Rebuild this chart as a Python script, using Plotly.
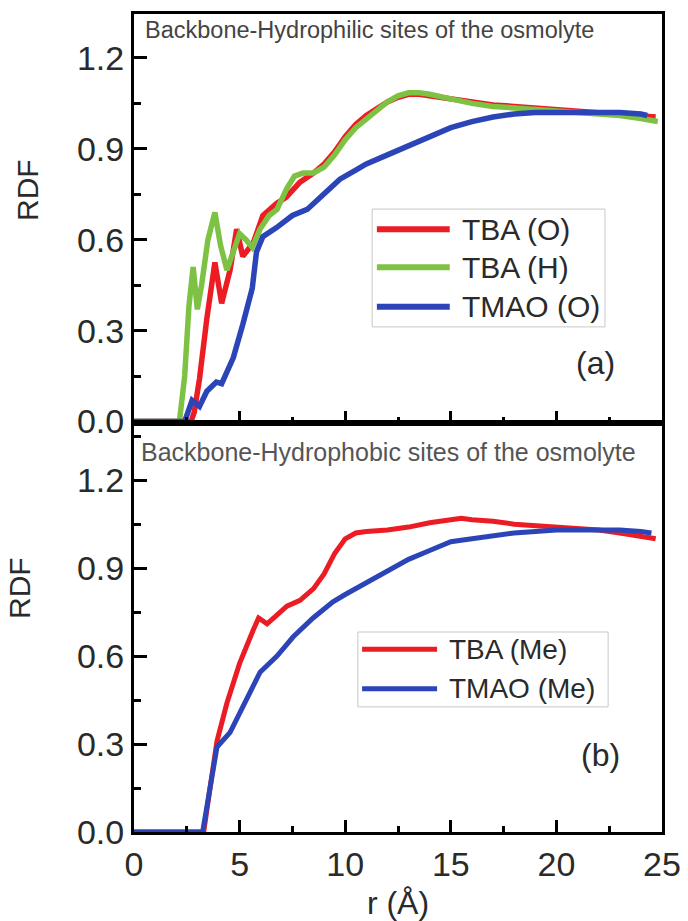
import plotly.graph_objects as go

# ---- panel (a): backbone vs hydrophilic osmolyte sites ----
r_tba_o = [0, 2.7, 2.85, 3.1, 3.45, 3.83, 4.15, 4.55, 4.86, 5.15, 5.65, 6.1, 6.75, 7.2, 7.86,
           8.5, 9.0, 9.5, 10, 10.5, 11, 11.5, 12, 12.5, 13, 13.5, 14, 15, 16, 17, 18, 19, 20,
           21, 22, 23, 24, 24.7]
g_tba_o = [0, 0, 0.03, 0.14, 0.34, 0.525, 0.39, 0.50, 0.635, 0.545, 0.59, 0.68, 0.72, 0.74, 0.79,
           0.82, 0.85, 0.89, 0.94, 0.98, 1.01, 1.035, 1.055, 1.07, 1.08, 1.08, 1.075, 1.065, 1.055,
           1.045, 1.04, 1.035, 1.03, 1.025, 1.02, 1.015, 1.01, 1.005]

r_tba_h = [0, 2.15, 2.4, 2.6, 2.8, 3.0, 3.2, 3.5, 3.83, 4.1, 4.4, 4.7, 5.0, 5.3, 5.6, 5.97, 6.4,
           6.77, 7.24, 7.6, 8.0, 8.5, 9.0, 9.5, 10, 10.5, 11, 11.5, 12, 12.5, 13, 13.5, 14, 15,
           16, 17, 18, 19, 20, 21, 22, 23, 24, 24.8]
g_tba_h = [0, 0, 0.15, 0.38, 0.51, 0.37, 0.45, 0.60, 0.69, 0.58, 0.50, 0.56, 0.62, 0.60, 0.575,
           0.635, 0.68, 0.70, 0.77, 0.81, 0.82, 0.82, 0.84, 0.88, 0.93, 0.97, 1.0, 1.03, 1.055,
           1.075, 1.085, 1.085, 1.08, 1.065, 1.05, 1.04, 1.035, 1.03, 1.025, 1.02, 1.015, 1.01,
           1.0, 0.99]

r_tmao_o = [0, 2.4, 2.75, 3.1, 3.45, 3.9, 4.15, 4.7, 5.15, 5.6, 5.8, 6.1, 6.75, 7.5, 8.2, 8.8,
            9.75, 10.5, 11, 12, 13, 14, 15, 16, 17, 18, 19, 20, 21, 22, 23, 24, 24.3]
g_tmao_o = [0, 0, 0.07, 0.05, 0.10, 0.13, 0.125, 0.21, 0.32, 0.44, 0.56, 0.61, 0.64, 0.68, 0.70,
            0.74, 0.80, 0.83, 0.85, 0.88, 0.91, 0.94, 0.97, 0.99, 1.005, 1.015, 1.02, 1.02, 1.02,
            1.02, 1.02, 1.015, 1.01]

# ---- panel (b): backbone vs hydrophobic osmolyte sites ----
r_tba_me = [0, 3.3, 3.6, 3.93, 4.4, 5.0, 5.65, 5.9, 6.3, 6.77, 7.24, 7.86, 8.5, 9.0, 9.5, 10.0,
            10.5, 11, 12, 13, 14, 15, 15.5, 16, 17, 18, 19, 20, 21, 22, 23, 24, 24.7]
g_tba_me = [0, 0, 0.15, 0.31, 0.44, 0.575, 0.69, 0.73, 0.71, 0.74, 0.77, 0.79, 0.83, 0.88, 0.95,
            1.0, 1.02, 1.025, 1.03, 1.04, 1.055, 1.065, 1.07, 1.065, 1.06, 1.05, 1.045, 1.04,
            1.035, 1.03, 1.02, 1.01, 1.0]

r_tmao_me = [0, 3.25, 3.6, 3.93, 4.55, 5.16, 5.97, 6.77, 7.53, 8.48, 9.42, 10, 11, 12, 13, 14, 15,
             16, 17, 18, 19, 20, 21, 22, 23, 24, 24.5]
g_tmao_me = [0, 0, 0.15, 0.29, 0.34, 0.43, 0.545, 0.60, 0.665, 0.73, 0.785, 0.81, 0.85, 0.89,
             0.93, 0.96, 0.99, 1.0, 1.01, 1.02, 1.025, 1.03, 1.03, 1.03, 1.03, 1.025, 1.02]

names_a = ["TBA (O)", "TBA (H)", "TMAO (O)"]
names_b = ["TBA (Me)", "TMAO (Me)"]
y_ticks = [0.0, 0.3, 0.6, 0.9, 1.2]
x_ticks = [0, 5, 10, 15, 20, 25]

RED, GREEN, BLUE = "#ec1c24", "#7dc243", "#2b44b8"
FONT = "Liberation Sans, Arial, sans-serif"
TXT = "#2a2a2a"

fig = go.Figure()
series_a = [(r_tba_o, g_tba_o, RED), (r_tba_h, g_tba_h, GREEN), (r_tmao_o, g_tmao_o, BLUE)]
series_b = [(r_tba_me, g_tba_me, RED), (r_tmao_me, g_tmao_me, BLUE)]
for (x, y, c), n in zip(series_a, names_a):
    fig.add_trace(go.Scatter(x=x, y=y, mode="lines", name=n, line=dict(color=c, width=5.5),
                             xaxis="x", yaxis="y", showlegend=False))
for (x, y, c), n in zip(series_b, names_b):
    fig.add_trace(go.Scatter(x=x, y=y, mode="lines", name=n, line=dict(color=c, width=5),
                             xaxis="x2", yaxis="y2", showlegend=False))

axis_common = dict(showline=True, linecolor="black", linewidth=3, mirror=True,
                   ticks="inside", tickcolor="black", tickwidth=3, showgrid=False,
                   zeroline=False, automargin=False,
                   tickfont=dict(family=FONT, size=34, color=TXT))
xcommon = dict(axis_common, range=[0, 25], tickvals=x_ticks, ticklen=12,
               minor=dict(dtick=2.5, tick0=0, ticks="inside", ticklen=6, tickwidth=3,
                          tickcolor="black", showgrid=False))
ycommon = dict(axis_common, tickvals=y_ticks, tickformat=".1f", ticklen=13,
               minor=dict(dtick=0.15, tick0=0, ticks="inside", ticklen=7, tickwidth=3,
                          tickcolor="black", showgrid=False))

fig.update_layout(
    width=688, height=921,
    margin=dict(l=134, r=26, t=14, b=89),
    paper_bgcolor="white", plot_bgcolor="white",
    font=dict(family=FONT, color=TXT),
    xaxis=dict(xcommon, anchor="y", showticklabels=False),
    yaxis=dict(ycommon, domain=[0.5, 1.0], range=[-0.005, 1.345], anchor="x"),
    xaxis2=dict(xcommon, anchor="y2", showticklabels=True,
                title=dict(text="r (Å)", font=dict(family=FONT, size=32, color=TXT),
                           standoff=12)),
    yaxis2=dict(ycommon, domain=[0.0, 0.5], range=[0, 1.395], anchor="x2"),
    showlegend=False,
)

annotations = []
shapes = []

# y-axis titles
annotations.append(dict(text="RDF", xref="paper", yref="paper", x=(27 - 134) / 528,
                        y=(832 - 190) / 818, showarrow=False, textangle=-90,
                        font=dict(family=FONT, size=30, color=TXT),
                        xanchor="center", yanchor="middle"))
annotations.append(dict(text="RDF", xref="paper", yref="paper", x=(19 - 134) / 528,
                        y=(832 - 588) / 818, showarrow=False, textangle=-90,
                        font=dict(family=FONT, size=30, color=TXT),
                        xanchor="center", yanchor="middle"))

# panel headings and letters
annotations.append(dict(text="Backbone-Hydrophilic sites of the osmolyte", xref="x domain",
                        yref="y domain", x=0.017, y=0.961, showarrow=False, xanchor="left",
                        yanchor="middle", font=dict(family=FONT, size=23.5, color="#444")))
annotations.append(dict(text="Backbone-Hydrophobic sites of the osmolyte", xref="x2 domain",
                        yref="y2 domain", x=0.009, y=0.929, showarrow=False, xanchor="left",
                        yanchor="middle", font=dict(family=FONT, size=25, color="#555")))
annotations.append(dict(text="(a)", xref="x domain", yref="y domain", x=0.915, y=0.098,
                        showarrow=False, font=dict(family=FONT, size=32, color=TXT)))
annotations.append(dict(text="(b)", xref="x2 domain", yref="y2 domain", x=0.924, y=0.139,
                        showarrow=False, font=dict(family=FONT, size=32, color=TXT)))


def add_legend(xr, yr, box, line_x, text_x, ys, names, colors, fsize, lw):
    shapes.append(dict(type="rect", xref=xr, yref=yr, x0=box[0], x1=box[1], y0=box[2],
                       y1=box[3], line=dict(color="#c8c8c8", width=1), fillcolor="white",
                       layer="below"))
    for yy, n, c in zip(ys, names, colors):
        shapes.append(dict(type="line", xref=xr, yref=yr, x0=line_x[0], x1=line_x[1],
                           y0=yy, y1=yy, line=dict(color=c, width=lw)))
        annotations.append(dict(text=n, xref=xr, yref=yr, x=text_x, y=yy, showarrow=False,
                                xanchor="left", yanchor="middle",
                                font=dict(family=FONT, size=fsize, color=TXT)))


add_legend("x domain", "y domain", (0.451, 0.892, 0.235, 0.523), (0.460, 0.598), 0.617,
           [0.474, 0.381, 0.284], names_a, [RED, GREEN, BLUE], 30, 6)
add_legend("x2 domain", "y2 domain", (0.424, 0.898, 0.306, 0.489), (0.432, 0.574), 0.593,
           [0.447, 0.350], names_b, [RED, BLUE], 28, 5)

fig.update_layout(annotations=annotations, shapes=shapes)
fig.write_html("out.html")
